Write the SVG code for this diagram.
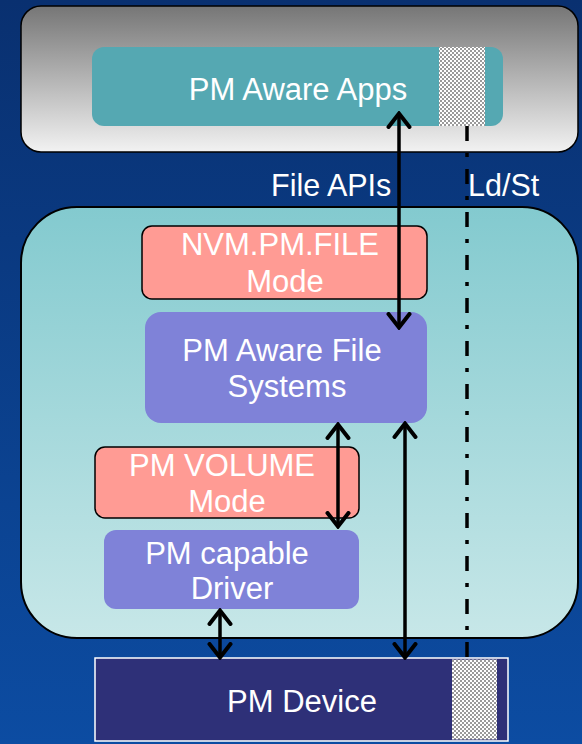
<svg xmlns="http://www.w3.org/2000/svg" width="582" height="744" viewBox="0 0 582 744">
<defs>
<linearGradient id="bg" x1="0" y1="0" x2="0" y2="1"><stop offset="0" stop-color="#093070"/><stop offset="1" stop-color="#0c4ca2"/></linearGradient>
<linearGradient id="gray" x1="0" y1="0" x2="0" y2="1"><stop offset="0" stop-color="#767676"/><stop offset="1" stop-color="#f2f2f2"/></linearGradient>
<linearGradient id="teal" x1="0" y1="0" x2="0" y2="1"><stop offset="0" stop-color="#83cacf"/><stop offset="1" stop-color="#c7e7e8"/></linearGradient>
<pattern id="chk" width="4" height="4" patternUnits="userSpaceOnUse"><rect width="4" height="4" fill="#ffffff"/><rect width="2" height="2" fill="#9a9a9a"/><rect x="2" y="2" width="2" height="2" fill="#9a9a9a"/></pattern>
<marker id="ah" viewBox="0 0 18 26" refX="16" refY="13" markerWidth="18" markerHeight="26" markerUnits="userSpaceOnUse" orient="auto-start-reverse"><path d="M2,2.5 L15.5,13 L2,23.5" fill="none" stroke="#000" stroke-width="4" stroke-linecap="round" stroke-linejoin="miter"/></marker>
<style>
.t{font-family:"Liberation Sans",Arial,sans-serif;fill:#fff;font-size:31px;text-anchor:middle}
.lbl{font-family:"Liberation Sans",Arial,sans-serif;fill:#fff;font-size:30.5px}
.ar{stroke:#000;stroke-width:3.5;fill:none;marker-start:url(#ah);marker-end:url(#ah)}
</style>
</defs>
<rect width="582" height="744" fill="url(#bg)"/>
<g id="user-space">
<rect x="21" y="6" width="557" height="146" rx="20" fill="url(#gray)" stroke="#000" stroke-width="1.5"/>
</g>
<g id="pm-aware-apps">
<rect x="92" y="47" width="411" height="79" rx="12" fill="#55a8b2"/>
<rect x="439" y="47" width="46" height="79" fill="url(#chk)"/>
<text class="t" x="298" y="100">PM Aware Apps</text>
</g>
<g id="kernel-space">
<rect x="21" y="207" width="557" height="431" rx="56" fill="url(#teal)" stroke="#000" stroke-width="2"/>
</g>
<g id="nvm-pm-file-mode">
<rect x="142" y="226" width="285" height="73" rx="10" fill="#ff9b94" stroke="#000" stroke-width="1.5"/>
<text class="t" x="280" y="255">NVM.PM.FILE</text>
<text class="t" x="285" y="292">Mode</text>
</g>
<g id="pm-aware-fs">
<rect x="145" y="312" width="282" height="111" rx="16" fill="#7f82d8"/>
<text class="t" x="282" y="361">PM Aware File</text>
<text class="t" x="287" y="397">Systems</text>
</g>
<g id="pm-volume-mode">
<rect x="95" y="447" width="264" height="71" rx="10" fill="#ff9b94" stroke="#000" stroke-width="1.5"/>
<text class="t" x="222" y="476">PM VOLUME</text>
<text class="t" x="227" y="512">Mode</text>
</g>
<g id="pm-capable-driver">
<rect x="104" y="530" width="255" height="79" rx="12" fill="#7f82d8"/>
<text class="t" x="227" y="564">PM capable</text>
<text class="t" x="232" y="599">Driver</text>
</g>
<g id="pm-device">
<rect x="95" y="658" width="413" height="83" fill="#2e3078" stroke="#fff" stroke-width="1.5"/>
<rect x="452" y="659.5" width="45" height="80" fill="url(#chk)"/>
<text class="t" x="302" y="712">PM Device</text>
</g>
<g id="labels">
<text class="lbl" x="271" y="196">File APIs</text>
<text class="lbl" x="468" y="196">Ld/St</text>
</g>
<g id="connectors">
<line x1="467" y1="126" x2="467" y2="658" stroke="#000" stroke-width="3.5" stroke-dasharray="15 12 4 12"/>
<line class="ar" x1="399" y1="113" x2="399" y2="328"/>
<line class="ar" x1="338" y1="424" x2="338" y2="527"/>
<line class="ar" x1="405" y1="423" x2="405" y2="658"/>
<line class="ar" x1="220" y1="610" x2="220" y2="658"/>
</g>
</svg>
